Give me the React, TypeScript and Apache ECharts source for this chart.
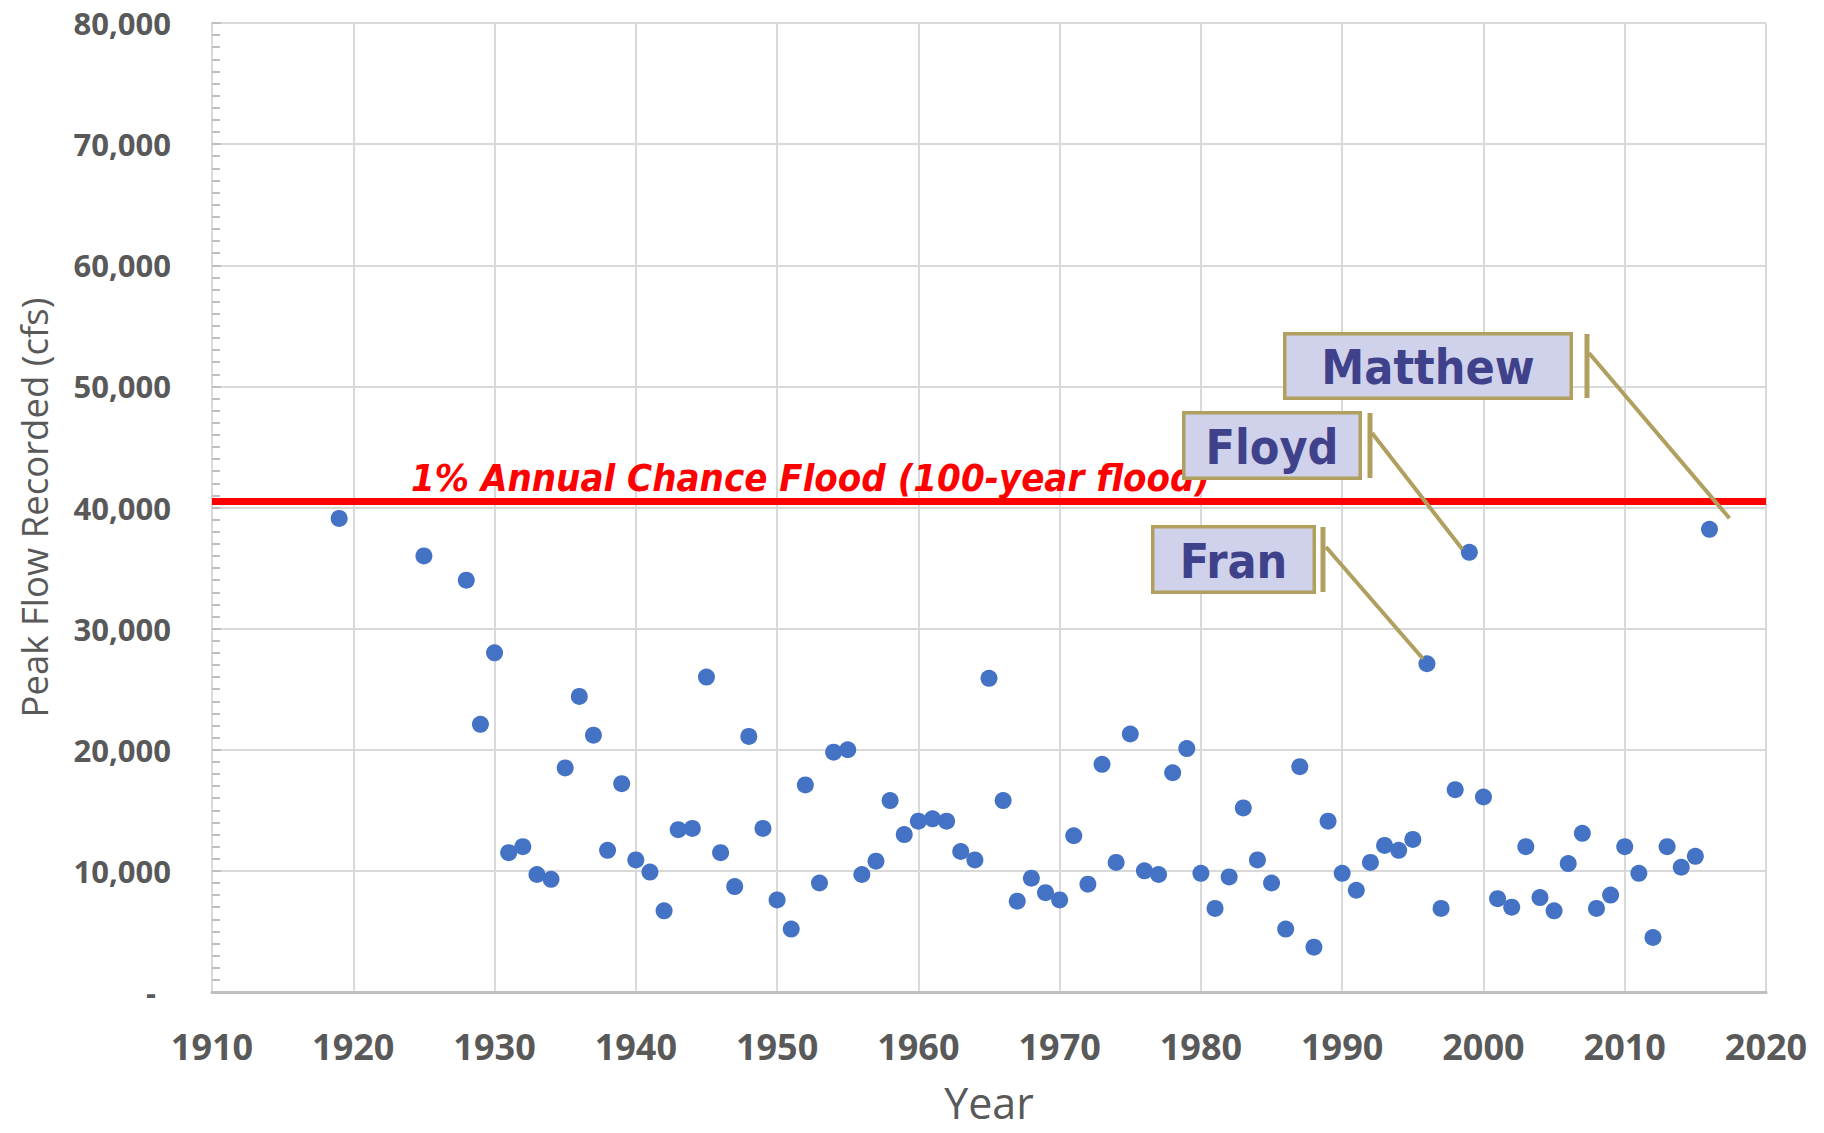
import React, { useEffect, useRef } from "react";
import * as echarts from "echarts";

// ---- data ----
const years = [
  1919, 1925, 1928, 1929, 1930, 1931, 1932, 1933, 1934, 1935, 1936, 1937, 1938, 1939,
  1940, 1941, 1942, 1943, 1944, 1945, 1946, 1947, 1948, 1949, 1950, 1951, 1952, 1953,
  1954, 1955, 1956, 1957, 1958, 1959, 1960, 1961, 1962, 1963, 1964, 1965, 1966, 1967,
  1968, 1969, 1970, 1971, 1972, 1973, 1974, 1975, 1976, 1977, 1978, 1979, 1980, 1981,
  1982, 1983, 1984, 1985, 1986, 1987, 1988, 1989, 1990, 1991, 1992, 1993, 1994, 1995,
  1996, 1997, 1998, 1999, 2000, 2001, 2002, 2003, 2004, 2005, 2006, 2007, 2008, 2009,
  2010, 2011, 2012, 2013, 2014, 2015, 2016,
];
const peakFlows = [
  39100, 36000, 34000, 22100, 28000, 11500, 12000, 9700, 9300, 18500, 24400, 21200, 11700, 17200,
  10900, 9900, 6700, 13400, 13500, 26000, 11500, 8700, 21100, 13500, 7600, 5200, 17100, 9000,
  19800, 20000, 9700, 10800, 15800, 13000, 14100, 14300, 14100, 11600, 10900, 25900, 15800, 7500,
  9400, 8200, 7600, 12900, 8900, 18800, 10700, 21300, 10000, 9700, 18100, 20100, 9800, 6900,
  9500, 15200, 10900, 9000, 5200, 18600, 3700, 14100, 9800, 8400, 10700, 12100, 11700, 12600,
  27100, 6900, 16700, 36300, 16100, 7700, 7000, 12000, 7800, 6700, 10600, 13100, 6900, 8000,
  12000, 9800, 4500, 12000, 10300, 11200, 38200,
];
const xMin = 1910;
const xMax = 2020;
const xInterval = 10;
const yMin = 0;
const yMax = 80000;
const yInterval = 10000;
const floodLevel = 40550;
const floodLabel = "1% Annual Chance Flood (100-year flood)";
const stormNames = ["Fran", "Floyd", "Matthew"];
const stormYears = [1996, 1999, 2016];

// ---- annotation layout (pixels) ----
const boxLayout = [
  { x: 1151, y: 525, w: 165, h: 69, barX: 1323, lineStart: [1326, 547], endOffset: [-4, -5] },
  { x: 1182, y: 411, w: 180, h: 69, barX: 1370, lineStart: [1372, 433], endOffset: [-7, -3] },
  { x: 1283, y: 332, w: 290, h: 68, barX: 1587, lineStart: [1589, 353], endOffset: [20, -11] },
];

const KHAKI = "#B09F5E";
const BOX_FILL = "#CFD2EA";
const NAVY = "#3F418B";
const LABEL_GREY = "#595959";
const CALLOUT_FONT = "'DejaVu Sans Condensed', 'DejaVu Sans', sans-serif";

export default function App() {
  const ref = useRef<HTMLDivElement>(null);

  useEffect(() => {
    if (!ref.current) return;
    const chart = echarts.init(ref.current, null, { renderer: "svg" });
    const points = years.map((y, i) => [y, peakFlows[i]]);

    chart.setOption({
      animation: false,
      backgroundColor: "#ffffff",
      grid: { left: 212, right: 58, top: 23, bottom: 141, containLabel: false },
      xAxis: {
        type: "value",
        min: xMin,
        max: xMax,
        interval: xInterval,
        name: "Year",
        nameLocation: "middle",
        nameGap: 90,
        nameTextStyle: { fontFamily: "Open Sans", fontSize: 43, lineHeight: 40, color: LABEL_GREY },
        axisLine: { show: true, lineStyle: { color: "#BFBFBF", width: 3 } },
        axisTick: { show: false },
        axisLabel: {
          margin: 36,
          fontFamily: "Open Sans",
          fontWeight: "bold",
          fontSize: 36,
          color: LABEL_GREY,
          formatter: (v: number) => String(v),
        },
        splitLine: { show: true, lineStyle: { color: "#D9D9D9", width: 2 } },
      },
      yAxis: {
        type: "value",
        min: yMin,
        max: yMax,
        interval: yInterval,
        name: "Peak Flow Recorded (cfs)",
        nameLocation: "middle",
        nameGap: 160,
        nameTextStyle: { fontFamily: "Open Sans", fontSize: 36.5, color: LABEL_GREY },
        axisLine: { show: true, lineStyle: { color: "#D9D9D9", width: 2 } },
        axisTick: { show: true, inside: true, length: 9, lineStyle: { color: "#BFBFBF", width: 2 } },
        minorTick: { show: true, splitNumber: 10, length: 8, lineStyle: { color: "#BFBFBF", width: 2 } },
        axisLabel: {
          margin: 41,
          fontFamily: "Open Sans",
          fontWeight: "bold",
          fontSize: 31,
          color: LABEL_GREY,
          formatter: (v: number) => (v === 0 ? "{z|-}" : v.toLocaleString("en-US")),
          rich: {
            z: {
              fontFamily: "Open Sans",
              fontWeight: "bold",
              fontSize: 31,
              color: LABEL_GREY,
              padding: [0, 15, 0, 0],
            },
          },
        },
        splitLine: { show: true, lineStyle: { color: "#D9D9D9", width: 2 } },
      },
      series: [
        {
          type: "scatter",
          data: points,
          symbol: "circle",
          symbolSize: 17,
          itemStyle: { color: "#4472C4", opacity: 1 },
          z: 3,
          markLine: {
            silent: true,
            symbol: ["none", "none"],
            label: { show: false },
            lineStyle: { color: "#FF0000", width: 7, type: "solid" },
            data: [{ yAxis: floodLevel }],
          },
        },
      ],
    });

    const elements: any[] = [
      {
        type: "text",
        x: 411,
        y: 478,
        z: 50,
        style: {
          text: floodLabel,
          fill: "#FF0000",
          fontFamily: CALLOUT_FONT,
          fontWeight: "bold",
          fontStyle: "italic",
          fontSize: 38,
          align: "left",
          verticalAlign: "middle",
          textAlign: "left",
          textVerticalAlign: "middle",
        },
      },
    ];

    stormNames.forEach((name, i) => {
      const b = boxLayout[i];
      const idx = years.indexOf(stormYears[i]);
      const p = chart.convertToPixel({ xAxisIndex: 0, yAxisIndex: 0 }, [years[idx], peakFlows[idx]]) as number[];
      elements.push(
        {
          type: "line",
          z: 60,
          shape: { x1: b.lineStart[0], y1: b.lineStart[1], x2: p[0] + b.endOffset[0], y2: p[1] + b.endOffset[1] },
          style: { stroke: KHAKI, lineWidth: 4 },
        },
        {
          type: "rect",
          z: 61,
          shape: { x: b.barX - 2.5, y: b.y + 2, width: 5, height: b.h - 4 },
          style: { fill: KHAKI },
        },
        {
          type: "rect",
          z: 62,
          shape: { x: b.x + 1.75, y: b.y + 1.75, width: b.w - 3.5, height: b.h - 3.5 },
          style: { fill: BOX_FILL, stroke: KHAKI, lineWidth: 3.5 },
        },
        {
          type: "text",
          z: 63,
          x: b.x + b.w / 2,
          y: b.y + b.h / 2 + 1,
          style: {
            text: name,
            fill: NAVY,
            fontFamily: CALLOUT_FONT,
            fontWeight: "bold",
            fontSize: 48,
            align: "center",
            verticalAlign: "middle",
            textAlign: "center",
            textVerticalAlign: "middle",
          },
        }
      );
    });

    chart.setOption({ graphic: { elements } });

    return () => chart.dispose();
  }, []);

  return (
    <div
      ref={ref}
      style={{ position: "fixed", left: 0, top: 0, width: 1824, height: 1133, background: "#fff" }}
    />
  );
}
